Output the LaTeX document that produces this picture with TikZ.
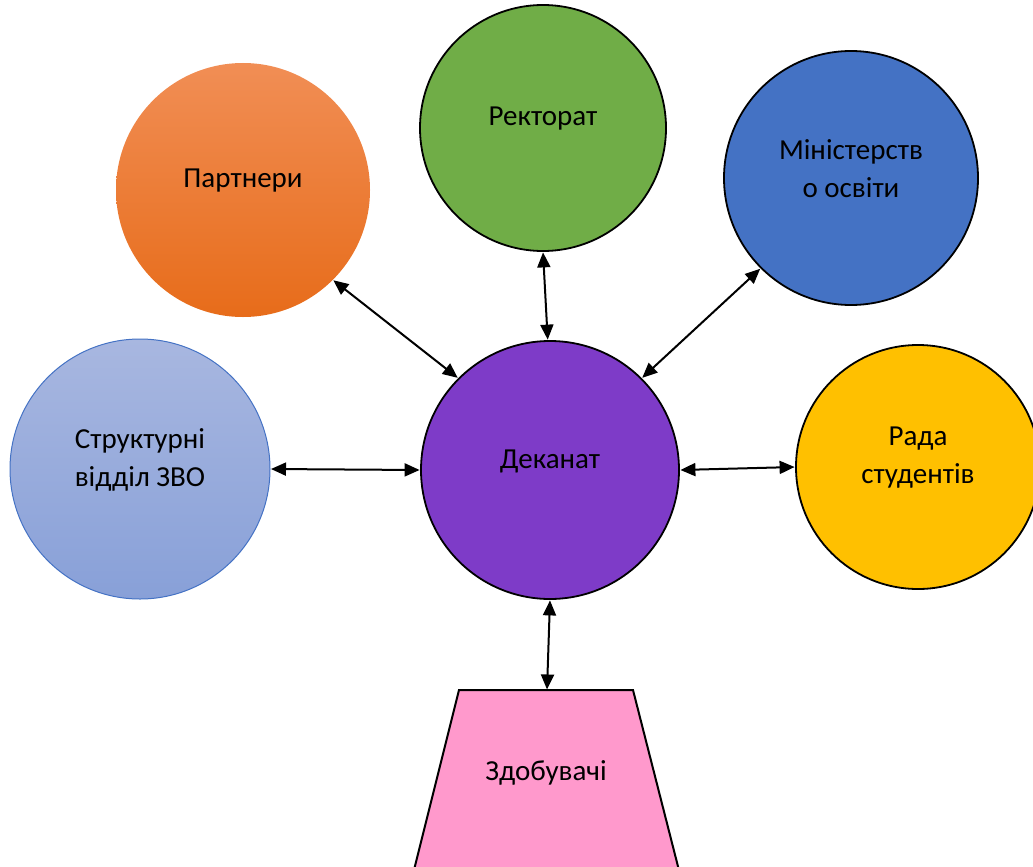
\documentclass[tikz,border=0pt]{standalone}
\usepackage{fontspec}
\setmainfont{Carlito}
\usetikzlibrary{arrows.meta}
\definecolor{cOrTop}{HTML}{F18E55}
\definecolor{cOrBot}{HTML}{E76C1A}
\definecolor{cGreen}{HTML}{70AD47}
\definecolor{cBlue}{HTML}{4472C4}
\definecolor{cLbTop}{HTML}{A8B7E0}
\definecolor{cLbBot}{HTML}{88A0D8}
\definecolor{cPurple}{HTML}{7E3BC8}
\definecolor{cYellow}{HTML}{FFC000}
\definecolor{cPink}{HTML}{FF99CC}
\tikzset{
  ball/.style={circle, inner sep=0pt},
  lbl/.style={font=\fontsize{29}{38}\selectfont, align=center, yshift=9pt},
  both/.style={line width=2pt, {Triangle[length=15pt,width=13pt]}-{Triangle[length=15pt,width=13pt]}, shorten <=0.5pt, shorten >=0.5pt}
}
\begin{document}
\begin{tikzpicture}[x=1pt,y=-1pt]
\useasboundingbox (0,0) rectangle (1033,867);
\clip (0,0) rectangle (1033,867);
% nodes
\node[ball, minimum size=254pt, top color=cOrTop, bottom color=cOrBot, label={[lbl]center:Партнери}] (p) at (243,190) {};
\node[ball, minimum size=246pt, draw=black, line width=1.8pt, fill=cGreen, label={[lbl]center:Ректорат}] (r) at (543,128) {};
\node[ball, minimum size=254pt, draw=black, line width=1.8pt, fill=cBlue, label={[lbl]center:Міністерств\\о освіти}] (m) at (851,178) {};
\node[ball, minimum size=260pt, draw=cBlue, line width=1pt, top color=cLbTop, bottom color=cLbBot, label={[lbl]center:Структурні\\відділ ЗВО}] (s) at (140,469) {};
\node[ball, minimum size=258pt, draw=black, line width=1.8pt, fill=cPurple, label={[lbl]center:Деканат}] (d) at (550,470) {};
\node[ball, minimum size=244pt, draw=black, line width=1.8pt, fill=cYellow, label={[lbl]center:Рада\\студентів}] (rs) at (918,467) {};
% trapezoid
\draw[line width=2pt, fill=cPink] (459,690) -- (633,690) -- (684,890) -- (409,890) -- cycle;
\coordinate (ztop) at (547,690);
\node[font=\fontsize{29}{38}\selectfont] (z) at (546,773) {Здобувачі};
% connectors
\draw[both] (p.-45) -- (d.135);
\draw[both] (r.-90) -- (d.91);
\draw[both] (m.225) -- (d.45);
\draw[both] (s.0) -- (d.180);
\draw[both] (d.0) -- (rs.180);
\draw[both] (d.-90) -- (ztop);
\end{tikzpicture}
\end{document}
